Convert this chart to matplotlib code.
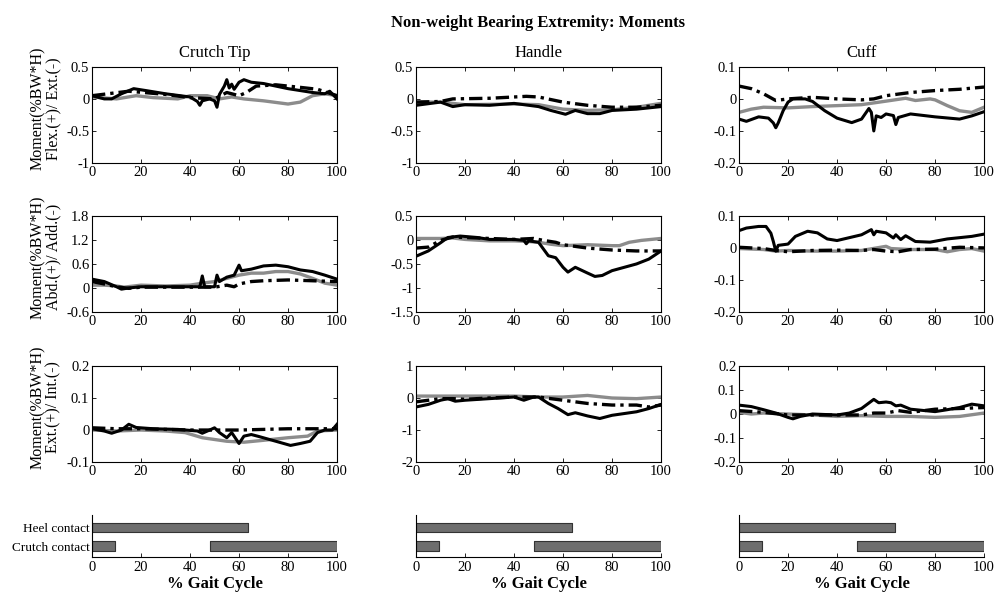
import matplotlib
matplotlib.use("Agg")
import matplotlib.pyplot as plt

plt.rcParams['font.family'] = ['Liberation Serif', 'DejaVu Serif']

# (percent gait cycle, moment) pairs for each trace
# row 1: flexion / extension
tip_fe_black = [(0, .05), (5, 0.0), (8, 0.0), (12, .08), (17, .16), (22, .13), (30, .08), (40, .03),
                (43, -.04), (44, -.1), (45, -.03), (48, 0.0), (50, -.03), (51, -.13), (52, .07),
                (54, .2), (55, .3), (56, .17), (57, .23), (58, .15), (60, .26), (62, .3), (65, .26),
                (70, .24), (80, .16), (90, .1), (95, .08), (97, .12), (100, 0.0)]
tip_fe_gray = [(0, .03), (10, 0.0), (18, .05), (25, .02), (35, 0.0), (40, .05), (47, .05), (52, 0.0),
               (57, .03), (62, 0.0), (70, -.03), (80, -.08), (85, -.05), (90, .05), (95, .08), (100, .05)]
tip_fe_dash = [(0, .05), (15, .12), (30, .07), (40, .02), (50, 0.0), (55, .1), (60, .05), (63, .1),
               (67, .2), (75, .22), (85, .18), (92, .15), (96, .1), (100, .05)]

hdl_fe_black = [(0, -.1), (10, -.05), (15, -.12), (20, -.09), (30, -.1), (40, -.07), (50, -.12),
                (55, -.18), (61, -.24), (65, -.18), (70, -.23), (75, -.23), (80, -.18), (90, -.16),
                (100, -.12)]
hdl_fe_gray = [(0, -.05), (10, -.05), (20, -.09), (40, -.08), (50, -.09), (60, -.16), (70, -.18),
               (80, -.17), (90, -.13), (100, -.07)]
hdl_fe_dash = [(0, -.05), (10, -.04), (15, 0.0), (30, .01), (45, .04), (50, .03), (55, -.01),
               (60, -.05), (70, -.1), (80, -.13), (90, -.13), (100, -.1)]

cuf_fe_black = [(0, -.063), (3, -.07), (8, -.056), (12, -.06), (14, -.075), (15, -.09), (16, -.075),
                (18, -.037), (20, -.01), (22, 0.0), (27, 0.0), (30, -.008), (35, -.037), (40, -.06),
                (46, -.074), (50, -.063), (53, -.03), (54, -.042), (55, -.1), (56, -.053), (58, -.058),
                (60, -.047), (63, -.052), (64, -.08), (65, -.058), (70, -.047), (80, -.056),
                (90, -.063), (95, -.053), (100, -.04)]
cuf_fe_gray = [(0, -.042), (5, -.032), (10, -.026), (20, -.028), (30, -.024), (40, -.021),
               (50, -.018), (60, -.007), (68, .002), (72, -.005), (78, 0.0), (80, -.003), (85, -.021),
               (90, -.037), (95, -.042), (100, -.026)]
cuf_fe_dash = [(0, .04), (5, .032), (10, .016), (15, -.005), (20, 0.0), (30, .005), (40, 0.0),
               (50, -.003), (55, 0.0), (60, .01), (70, .02), (80, .026), (90, .03), (100, .037)]

# row 2: abduction / adduction
tip_aa_black = [(0, .22), (5, .16), (10, .03), (12, -.03), (15, 0.0), (20, .03), (30, .03), (44, .03),
                (45, .3), (46, .03), (50, .03), (51, .32), (52, .16), (55, .27), (58, .32), (60, .57),
                (61, .43), (63, .45), (65, .47), (70, .55), (75, .57), (80, .53), (85, .45), (90, .41),
                (95, .32), (100, .22)]
tip_aa_gray = [(0, .07), (5, .07), (10, .05), (13, .02), (20, .07), (30, .05), (40, .07), (45, .12),
               (50, .16), (55, .24), (60, .32), (65, .37), (70, .37), (75, .41), (80, .41), (85, .35),
               (90, .24), (95, .12), (100, .07)]
tip_aa_dash = [(0, .16), (5, .1), (10, .03), (15, -.01), (20, .02), (30, .02), (40, .02), (50, .02),
               (55, .07), (58, .03), (60, .1), (65, .16), (70, .18), (80, .2), (90, .18), (100, .16)]

hdl_aa_black = [(0, -.34), (5, -.23), (10, -.06), (13, .05), (18, .08), (25, .05), (30, .01),
                (40, .01), (44, -.01), (45, -.08), (46, -.02), (50, -.05), (52, -.19), (54, -.33),
                (57, -.37), (60, -.57), (62, -.67), (65, -.57), (70, -.69), (73, -.76), (76, -.74),
                (80, -.64), (85, -.57), (90, -.5), (95, -.4), (100, -.23)]
hdl_aa_gray = [(0, .03), (10, .03), (15, .04), (20, .01), (30, -.02), (40, -.02), (45, -.03),
               (50, -.05), (55, -.09), (60, -.12), (70, -.1), (80, -.12), (83, -.12), (87, -.05),
               (92, -.01), (100, .03)]
hdl_aa_dash = [(0, -.17), (5, -.15), (10, -.01), (15, .06), (20, .05), (30, .03), (40, .01),
               (48, .03), (52, -.01), (57, -.05), (60, -.1), (70, -.17), (80, -.21), (90, -.23),
               (100, -.23)]

cuf_aa_black = [(0, .054), (3, .062), (8, .067), (11, .067), (13, .046), (14, .02), (15, -.01),
                (16, .008), (20, .012), (23, .036), (28, .052), (32, .047), (36, .028), (40, .023),
                (50, .041), (54, .057), (55, .041), (56, .052), (60, .047), (63, .031), (64, .041),
                (66, .026), (68, .038), (72, .02), (78, .018), (85, .028), (95, .036), (100, .043)]
cuf_aa_gray = [(0, -.002), (10, -.005), (15, -.01), (20, -.008), (30, -.01), (40, -.01), (50, -.008),
               (60, .005), (62, -.002), (70, -.005), (80, -.005), (85, -.012), (90, -.005),
               (95, -.002), (100, -.01)]
cuf_aa_dash = [(0, .002), (10, -.002), (15, -.008), (20, -.012), (30, -.008), (40, -.007),
               (50, -.008), (55, -.005), (60, -.01), (65, -.012), (70, -.005), (80, -.004),
               (90, .002), (100, 0.0)]

# row 3: external / internal rotation
tip_ei_black = [(0, .004), (5, -.003), (8, -.01), (12, 0.0), (15, .018), (18, .008), (25, .004),
                (35, .002), (43, -.003), (45, -.01), (48, 0.0), (50, .007), (52, -.008), (55, -.024),
                (57, -.008), (60, -.042), (62, -.019), (65, -.014), (68, -.02), (75, -.035),
                (81, -.048), (85, -.042), (89, -.035), (92, -.008), (95, 0.0), (98, 0.0), (100, .018)]
tip_ei_gray = [(0, 0.0), (10, -.003), (20, 0.0), (30, -.003), (38, -.008), (45, -.024), (55, -.035),
               (62, -.038), (70, -.032), (80, -.024), (88, -.019), (92, -.003), (100, 0.0)]
tip_ei_dash = [(0, .007), (10, .004), (20, .004), (30, .002), (40, 0.0), (50, 0.0), (60, 0.0),
               (70, .002), (80, .004), (90, .004), (100, .004)]

hdl_ei_black = [(0, -.28), (5, -.2), (10, -.07), (13, -.02), (16, -.1), (20, -.07), (30, -.02),
                (40, .03), (44, -.07), (48, .03), (50, .03), (54, -.17), (58, -.33), (62, -.52),
                (65, -.46), (70, -.56), (75, -.64), (80, -.54), (90, -.43), (95, -.33), (100, -.2)]
hdl_ei_gray = [(0, .06), (10, .06), (20, .06), (30, .06), (40, .06), (50, .03), (60, .03), (70, .08),
               (80, 0.0), (90, -.02), (100, .03)]
hdl_ei_dash = [(0, -.12), (5, -.07), (10, -.02), (15, -.02), (20, -.04), (30, 0.0), (40, .03),
               (50, .03), (55, -.02), (60, -.07), (65, -.12), (70, -.17), (80, -.22), (90, -.22),
               (95, -.28), (100, -.22)]

cuf_ei_black = [(0, .037), (5, .031), (10, .018), (15, .004), (20, -.014), (22, -.02), (25, -.01),
                (30, 0.0), (40, -.004), (45, .004), (50, .023), (55, .061), (57, .047), (60, .05),
                (62, .047), (64, .034), (66, .037), (70, .02), (80, .01), (85, .018), (90, .027),
                (95, .041), (100, .034)]
cuf_ei_gray = [(0, .007), (5, 0.0), (10, .004), (20, 0.0), (30, -.004), (40, -.01), (50, -.007),
               (60, -.01), (70, -.01), (80, -.014), (90, -.01), (100, .004)]
cuf_ei_dash = [(0, .014), (10, .007), (20, -.004), (30, -.004), (40, -.004), (50, -.004),
               (55, .004), (60, .004), (65, .014), (70, .007), (80, .02), (90, .023), (100, .027)]

col_titles = ['Crutch Tip', 'Handle', 'Cuff']
row_labels = ['Moment(%BW*H)\nFlex.(+)/ Ext.(-)',
              'Moment(%BW*H)\nAbd.(+)/ Add.(-)',
              'Moment(%BW*H)\nExt.(+)/ Int.(-)']
panels = [[(tip_fe_black, tip_fe_gray, tip_fe_dash), (hdl_fe_black, hdl_fe_gray, hdl_fe_dash),
           (cuf_fe_black, cuf_fe_gray, cuf_fe_dash)],
          [(tip_aa_black, tip_aa_gray, tip_aa_dash), (hdl_aa_black, hdl_aa_gray, hdl_aa_dash),
           (cuf_aa_black, cuf_aa_gray, cuf_aa_dash)],
          [(tip_ei_black, tip_ei_gray, tip_ei_dash), (hdl_ei_black, hdl_ei_gray, hdl_ei_dash),
           (cuf_ei_black, cuf_ei_gray, cuf_ei_dash)]]
y_ticks = [[[-1, -0.5, 0, 0.5], [-1, -0.5, 0, 0.5], [-0.2, -0.1, 0, 0.1]],
           [[-0.6, 0, 0.6, 1.2, 1.8], [-1.5, -1, -0.5, 0, 0.5], [-0.2, -0.1, 0, 0.1]],
           [[-0.1, 0, 0.1, 0.2], [-2, -1, 0, 1], [-0.2, -0.1, 0, 0.1, 0.2]]]

# contact phases (start, length) in % gait cycle
heel_contact = [(0, 63.5)]
crutch_contact = [(0, 9.5), (48, 52)]
phase_labels = ['Crutch contact', 'Heel contact']

GRAY = '#8c8c8c'
col_x = [0.0924, 0.4177, 0.742]
row_y = [0.727, 0.4774, 0.226]
ax_w, ax_h = 0.246, 0.161

fig = plt.figure(figsize=(9.96, 5.97), dpi=100)
fig.text(0.54, 0.962, 'Non-weight Bearing Extremity: Moments', ha='center', va='center',
         fontsize=12, fontweight='bold')

for r in range(3):
    for c in range(3):
        ax = fig.add_axes([col_x[c], row_y[r], ax_w, ax_h])
        black, gray, dash = panels[r][c]
        ax.plot(*zip(*gray), color=GRAY, lw=2.4, zorder=2)
        ax.plot(*zip(*dash), color='black', lw=2.4, ls=(0, (4, 1.5, 1, 1.5)), zorder=3)
        ax.plot(*zip(*black), color='black', lw=2.2, zorder=4)
        ax.set_xlim(0, 100)
        ax.set_xticks([0, 20, 40, 60, 80, 100])
        yt = y_ticks[r][c]
        ax.set_ylim(yt[0], yt[-1])
        ax.set_yticks(yt)
        ax.set_yticklabels([f'{v:g}' for v in yt])
        ax.tick_params(direction='in', top=True, right=True, labelsize=10.5, length=3, width=0.6, pad=2)
        for s in ax.spines.values():
            s.set_linewidth(0.8)
        if r == 0:
            ax.set_title(col_titles[c], fontsize=12, pad=7)
        if c == 0:
            ax.set_ylabel(row_labels[r], fontsize=11.5, linespacing=0.95)
            ax.yaxis.set_label_coords(-0.125, 0.57)

for c in range(3):
    ax = fig.add_axes([col_x[c], 0.067, ax_w, 0.0704])
    ax.broken_barh(crutch_contact, (0.75, 0.5), facecolor='#6e6e6e', edgecolor='#333333', lw=0.8)
    ax.broken_barh(heel_contact, (1.75, 0.5), facecolor='#6e6e6e', edgecolor='#333333', lw=0.8)
    ax.set_xlim(0, 100)
    ax.set_ylim(0.41, 2.68)
    ax.set_xticks([0, 20, 40, 60, 80, 100])
    ax.spines['top'].set_visible(False)
    ax.spines['right'].set_visible(False)
    ax.tick_params(axis='x', direction='in', labelsize=10.5, length=3, width=0.6, pad=3)
    ax.set_yticks([1, 2])
    if c == 0:
        ax.set_yticklabels(phase_labels, fontsize=9.5)
    else:
        ax.set_yticklabels([])
    ax.tick_params(axis='y', length=0, pad=2)
    ax.set_xlabel('% Gait Cycle', fontsize=12, fontweight='bold', labelpad=1)

fig.savefig('out.png', dpi=100)
